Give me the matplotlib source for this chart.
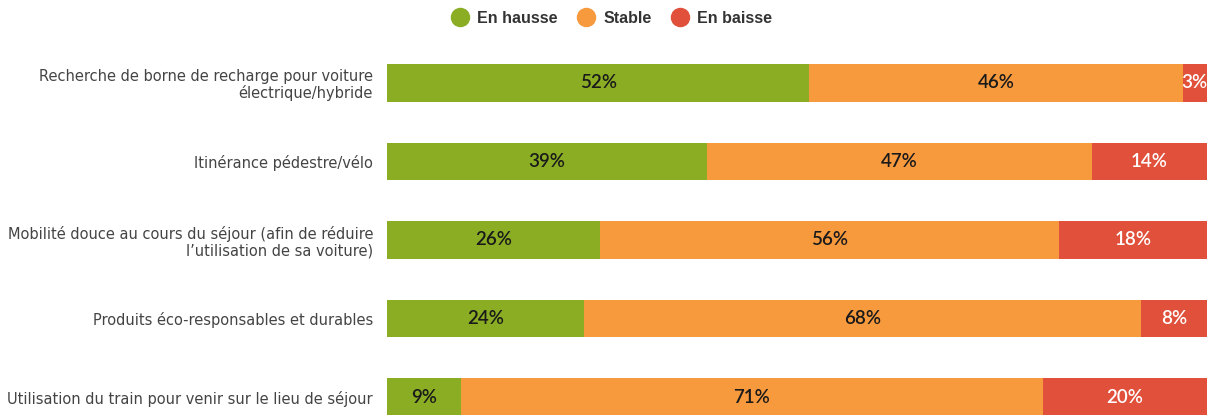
import numpy as np
import matplotlib.pyplot as plt
from matplotlib.lines import Line2D

categories = [
    "Recherche de borne de recharge pour voiture\nélectrique/hybride",
    "Itinérance pédestre/vélo",
    "Mobilité douce au cours du séjour (afin de réduire\nl\u2019utilisation de sa voiture)",
    "Produits éco-responsables et durables",
    "Utilisation du train pour venir sur le lieu de séjour",
]
en_hausse = [52, 39, 26, 24, 9]
stable = [46, 47, 56, 68, 71]
en_baisse = [3, 14, 18, 8, 20]

series = [("En hausse", en_hausse, "#8aad24", "#1a1a1a"),
          ("Stable", stable, "#f79a3e", "#1a1a1a"),
          ("En baisse", en_baisse, "#e0503a", "white")]

totals = np.array(en_hausse) + np.array(stable) + np.array(en_baisse)

fig = plt.figure(figsize=(12.09, 4.15), dpi=100)
ax = fig.add_axes([0.3201, -0.0024, 0.6782, 0.8482])

y = np.arange(len(categories))
left = np.zeros(len(categories))
for name, vals, color, tcolor in series:
    w = np.array(vals) / totals * 100
    ax.barh(y, w, left=left, height=0.48, color=color, edgecolor="none")
    for yi, (l, wi, v) in enumerate(zip(left, w, vals)):
        ax.text(l + wi / 2, yi, f"{v}%", ha="center", va="center",
                fontsize=13.5, color=tcolor, family="Lato", fontweight="semibold")
    left += w

ax.set_xlim(0, 100)
ax.set_ylim(4.24, -0.24)
ax.set_yticks(y)
ax.set_yticklabels(categories, fontsize=10.5, color="#444444", family="DejaVu Sans",
                   ha="right", linespacing=1.1)
ax.tick_params(axis="y", length=0, pad=10)
ax.set_xticks([])
for s in ax.spines.values():
    s.set_visible(False)

handles = [Line2D([], [], marker="o", linestyle="none", markersize=13,
                  markerfacecolor=c, markeredgecolor=c) for _, _, c, _ in series]
fig.legend(handles, [s[0] for s in series], loc="center", bbox_to_anchor=(0.503, 0.956),
           ncol=3, frameon=False, handletextpad=0.05, columnspacing=0.8,
           prop={"family": "Liberation Sans", "weight": "bold", "size": 11.5},
           labelcolor="#333333")

fig.savefig("out.png", dpi=100)
